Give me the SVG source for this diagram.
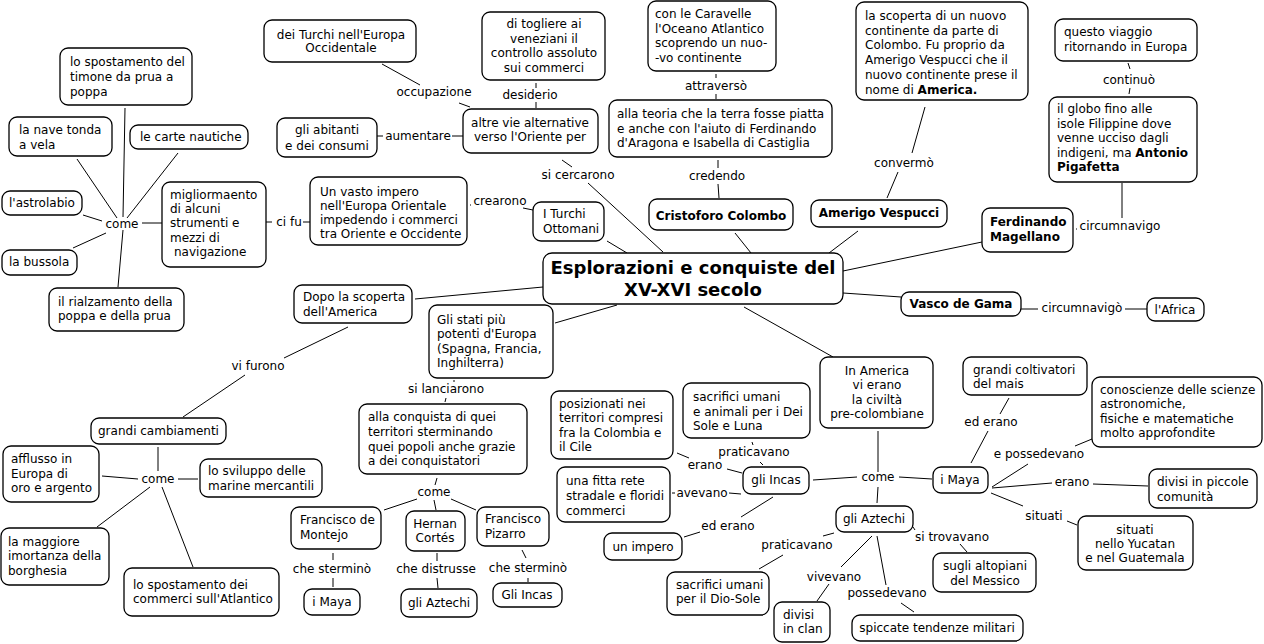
<svg xmlns="http://www.w3.org/2000/svg" width="1264" height="644" viewBox="0 0 1264 644">
<style>
text{font-family:"DejaVu Sans",Verdana,sans-serif;font-size:12px;fill:#000}
.n rect{fill:#fff;stroke:#000;stroke-width:1.3}
.m{text-anchor:middle}
.b{font-weight:bold}
.t{font-size:18px;font-weight:bold;text-anchor:middle}
#conn line{stroke:#000;stroke-width:1}
#labels text{text-anchor:middle}
</style>
<rect width="1264" height="644" fill="#fff"/>
<g id="conn">
<line x1="125" y1="108" x2="123" y2="217"/>
<line x1="77" y1="159" x2="117" y2="218"/>
<line x1="178" y1="153" x2="127" y2="218"/>
<line x1="83" y1="215" x2="102" y2="221"/>
<line x1="73" y1="248" x2="106" y2="233"/>
<line x1="123" y1="230" x2="118" y2="287"/>
<line x1="142" y1="223" x2="162" y2="223"/>
<line x1="266" y1="222" x2="272" y2="222"/>
<line x1="303" y1="222" x2="310" y2="222"/>
<line x1="382" y1="64" x2="420" y2="85"/>
<line x1="459" y1="103" x2="470" y2="107"/>
<line x1="536" y1="83" x2="536" y2="88"/>
<line x1="536" y1="102" x2="536" y2="108"/>
<line x1="377" y1="136" x2="383" y2="136"/>
<line x1="452" y1="136" x2="463" y2="136"/>
<line x1="562" y1="160" x2="572" y2="167"/>
<line x1="588" y1="183" x2="663" y2="252"/>
<line x1="470" y1="205" x2="471" y2="205"/>
<line x1="523" y1="208" x2="533" y2="210"/>
<line x1="607" y1="241" x2="627" y2="253"/>
<line x1="716" y1="74" x2="716" y2="78"/>
<line x1="716" y1="94" x2="716" y2="99"/>
<line x1="718" y1="160" x2="718" y2="168"/>
<line x1="718" y1="184" x2="719" y2="198"/>
<line x1="735" y1="233" x2="751" y2="253"/>
<line x1="925" y1="107" x2="912" y2="153"/>
<line x1="898" y1="172" x2="887" y2="198"/>
<line x1="858" y1="231" x2="829" y2="253"/>
<line x1="1128" y1="63" x2="1130" y2="69"/>
<line x1="1130" y1="88" x2="1129" y2="94"/>
<line x1="1122" y1="183" x2="1122" y2="218"/>
<line x1="1076" y1="229" x2="1077" y2="229"/>
<line x1="982" y1="242" x2="843" y2="271"/>
<line x1="843" y1="293" x2="901" y2="297"/>
<line x1="1021" y1="309" x2="1038" y2="309"/>
<line x1="1125" y1="309" x2="1147" y2="309"/>
<line x1="744" y1="307" x2="833" y2="357"/>
<line x1="617" y1="305" x2="555" y2="323"/>
<line x1="543" y1="287" x2="415" y2="299"/>
<line x1="348" y1="327" x2="284" y2="358"/>
<line x1="245" y1="375" x2="183" y2="417"/>
<line x1="454" y1="380" x2="454" y2="382"/>
<line x1="446" y1="398" x2="445" y2="402"/>
<line x1="158" y1="447" x2="158" y2="471"/>
<line x1="102" y1="476" x2="138" y2="479"/>
<line x1="178" y1="479" x2="198" y2="479"/>
<line x1="150" y1="487" x2="97" y2="527"/>
<line x1="162" y1="487" x2="193" y2="567"/>
<line x1="437" y1="478" x2="435" y2="485"/>
<line x1="417" y1="499" x2="384" y2="510"/>
<line x1="434" y1="500" x2="436" y2="510"/>
<line x1="451" y1="499" x2="476" y2="510"/>
<line x1="333" y1="553" x2="333" y2="560"/>
<line x1="333" y1="578" x2="333" y2="587"/>
<line x1="437" y1="553" x2="437" y2="561"/>
<line x1="437" y1="578" x2="438" y2="588"/>
<line x1="522" y1="550" x2="526" y2="558"/>
<line x1="528" y1="578" x2="528" y2="582"/>
<line x1="752" y1="442" x2="753" y2="445"/>
<line x1="760" y1="462" x2="763" y2="465"/>
<line x1="677" y1="453" x2="689" y2="458"/>
<line x1="727" y1="469" x2="742" y2="473"/>
<line x1="672" y1="493" x2="675" y2="493"/>
<line x1="729" y1="493" x2="741" y2="494"/>
<line x1="773" y1="497" x2="741" y2="517"/>
<line x1="700" y1="532" x2="684" y2="537"/>
<line x1="813" y1="480" x2="857" y2="477"/>
<line x1="899" y1="477" x2="932" y2="479"/>
<line x1="878" y1="431" x2="878" y2="472"/>
<line x1="878" y1="487" x2="877" y2="503"/>
<line x1="1009" y1="398" x2="1000" y2="414"/>
<line x1="988" y1="431" x2="971" y2="463"/>
<line x1="1092" y1="439" x2="1075" y2="446"/>
<line x1="1028" y1="464" x2="992" y2="487"/>
<line x1="992" y1="488" x2="1052" y2="483"/>
<line x1="1093" y1="484" x2="1148" y2="486"/>
<line x1="991" y1="493" x2="1023" y2="506"/>
<line x1="1067" y1="521" x2="1077" y2="525"/>
<line x1="913" y1="527" x2="915" y2="530"/>
<line x1="960" y1="544" x2="967" y2="552"/>
<line x1="834" y1="533" x2="823" y2="536"/>
<line x1="783" y1="555" x2="759" y2="569"/>
<line x1="872" y1="536" x2="841" y2="567"/>
<line x1="829" y1="584" x2="817" y2="601"/>
<line x1="877" y1="536" x2="886" y2="585"/>
<line x1="901" y1="603" x2="914" y2="612"/>
</g>
<g id="labels">
<text x="122" y="228">come</text>
<text x="289" y="226">ci fu</text>
<text x="418" y="140">aumentare</text>
<text x="434" y="96">occupazione</text>
<text x="530" y="99">desiderio</text>
<text x="578" y="179">si cercarono</text>
<text x="500" y="205">crearono</text>
<text x="716" y="90">attraversò</text>
<text x="717" y="180">credendo</text>
<text x="904" y="167">convermò</text>
<text x="1129" y="84">continuò</text>
<text x="1120" y="230">circumnavigo</text>
<text x="1082" y="312">circumnavigò</text>
<text x="258" y="370">vi furono</text>
<text x="446" y="393">si lanciarono</text>
<text x="158" y="483">come</text>
<text x="434" y="496">come</text>
<text x="332" y="573">che sterminò</text>
<text x="436" y="573">che distrusse</text>
<text x="528" y="572">che sterminò</text>
<text x="754" y="456">praticavano</text>
<text x="705" y="469">erano</text>
<text x="702" y="497">avevano</text>
<text x="728" y="530">ed erano</text>
<text x="878" y="481">come</text>
<text x="991" y="426">ed erano</text>
<text x="1039" y="458">e possedevano</text>
<text x="1072" y="486">erano</text>
<text x="1044" y="520">situati</text>
<text x="952" y="541">si trovavano</text>
<text x="797" y="549">praticavano</text>
<text x="834" y="581">vivevano</text>
<text x="887" y="597">possedevano</text>
</g>
<g id="n-timone" class="n"><rect x="60" y="48" width="132" height="57" rx="8"/><text x="70" y="66">lo spostamento del</text><text x="70" y="81">timone da prua a</text><text x="70" y="96">poppa</text></g>
<g id="n-nave" class="n"><rect x="9" y="117" width="103" height="39" rx="8"/><text x="19" y="134">la nave tonda</text><text x="19" y="149">a vela</text></g>
<g id="n-carte" class="n"><rect x="130" y="125" width="118" height="24" rx="8"/><text x="140" y="141">le carte nautiche</text></g>
<g id="n-astrolabio" class="n"><rect x="2" y="191" width="80" height="24" rx="8"/><text x="9" y="207">l'astrolabio</text></g>
<g id="n-bussola" class="n"><rect x="2" y="250" width="75" height="25" rx="8"/><text x="9" y="266">la bussola</text></g>
<g id="n-rialzamento" class="n"><rect x="49" y="288" width="135" height="43" rx="8"/><text x="58" y="306">il rialzamento della</text><text x="58" y="320">poppa e della prua</text></g>
<g id="n-miglioramento" class="n"><rect x="162" y="182" width="104" height="85" rx="8"/><text x="170" y="199">migliormaento</text><text x="170" y="213">di alcuni</text><text x="170" y="227">strumenti e</text><text x="170" y="242">mezzi di</text><text x="174" y="256">navigazione</text></g>
<g id="n-impero" class="n"><rect x="310" y="177" width="157" height="68" rx="8"/><text x="320" y="196">Un vasto impero</text><text x="320" y="210">nell'Europa Orientale</text><text x="320" y="224">impedendo i commerci</text><text x="320" y="238">tra Oriente e Occidente</text></g>
<g id="n-turchi" class="n"><rect x="533" y="202" width="71" height="39" rx="8"/><text x="543" y="218">I Turchi</text><text x="543" y="233">Ottomani</text></g>
<g id="n-abitanti" class="n"><rect x="277" y="118" width="100" height="39" rx="8"/><text class="m" x="327" y="134">gli abitanti</text><text class="m" x="327" y="150">e dei consumi</text></g>
<g id="n-occidentale" class="n"><rect x="264" y="20" width="152" height="42" rx="8"/><text class="m" x="341" y="39">dei Turchi nell'Europa</text><text class="m" x="341" y="52">Occidentale</text></g>
<g id="n-veneziani" class="n"><rect x="482" y="12" width="123" height="68" rx="8"/><text class="m" x="544" y="28">di togliere ai</text><text class="m" x="544" y="43">veneziani il</text><text class="m" x="544" y="57">controllo assoluto</text><text class="m" x="544" y="72">sui commerci</text></g>
<g id="n-altrevie" class="n"><rect x="463" y="109" width="135" height="44" rx="8"/><text class="m" x="530" y="127">altre vie alternative</text><text class="m" x="530" y="141">verso l'Oriente per</text></g>
<g id="n-caravelle" class="n"><rect x="648" y="1" width="128" height="70" rx="8"/><text x="655" y="18">con le Caravelle</text><text x="655" y="33">l'Oceano Atlantico</text><text x="655" y="47">scoprendo un nuo-</text><text x="655" y="62">-vo continente</text></g>
<g id="n-teoria" class="n"><rect x="609" y="100" width="223" height="57" rx="8"/><text x="617" y="118">alla teoria che la terra fosse piatta</text><text x="617" y="133">e anche con l'aiuto di Ferdinando</text><text x="617" y="147">d'Aragona e Isabella di Castiglia</text></g>
<g id="n-colombo" class="n"><rect x="649" y="199" width="144" height="31" rx="8"/><text class="m b" x="721" y="220">Cristoforo Colombo</text></g>
<g id="n-vespucci" class="n"><rect x="811" y="200" width="136" height="27" rx="8"/><text class="m b" x="879" y="217">Amerigo Vespucci</text></g>
<g id="n-scoperta" class="n"><rect x="856" y="2" width="172" height="98" rx="8"/><text x="865" y="20">la scoperta di un nuovo</text><text x="865" y="35">continente da parte di</text><text x="865" y="49">Colombo. Fu proprio da</text><text x="865" y="64">Amerigo Vespucci che il</text><text x="865" y="79">nuovo continente prese il</text><text x="865" y="94">nome di <tspan class="b">America.</tspan></text></g>
<g id="n-viaggio" class="n"><rect x="1055" y="19" width="142" height="42" rx="8"/><text x="1064" y="36">questo viaggio</text><text x="1064" y="51">ritornando in Europa</text></g>
<g id="n-globo" class="n"><rect x="1049" y="97" width="148" height="85" rx="8"/><text x="1057" y="113">il globo fino alle</text><text x="1057" y="128">isole Filippine dove</text><text x="1057" y="142">venne ucciso dagli</text><text x="1057" y="157">indigeni, ma <tspan class="b">Antonio</tspan></text><text x="1057" y="171" class="b">Pigafetta</text></g>
<g id="n-magellano" class="n"><rect x="982" y="208" width="91" height="44" rx="8"/><text class="b" x="990" y="226">Ferdinando</text><text class="b" x="990" y="241">Magellano</text></g>
<g id="n-vasco" class="n"><rect x="901" y="292" width="120" height="24" rx="8"/><text class="m b" x="961" y="308">Vasco de Gama</text></g>
<g id="n-africa" class="n"><rect x="1147" y="298" width="57" height="23" rx="8"/><text class="m" x="1175" y="314">l'Africa</text></g>
<g id="n-central" class="n"><rect x="543" y="253" width="300" height="51" rx="9"/><text class="t" x="693" y="274">Esplorazioni e conquiste del</text><text class="t" x="693" y="296">XV-XVI secolo</text></g>
<g id="n-dopo" class="n"><rect x="294" y="285" width="118" height="38" rx="8"/><text x="303" y="301">Dopo la scoperta</text><text x="303" y="316">dell'America</text></g>
<g id="n-stati" class="n"><rect x="429" y="305" width="124" height="73" rx="8"/><text x="437" y="324">Gli stati più</text><text x="437" y="338">potenti d'Europa</text><text x="437" y="353">(Spagna, Francia,</text><text x="437" y="367">Inghilterra)</text></g>
<g id="n-conquista" class="n"><rect x="359" y="404" width="168" height="70" rx="8"/><text x="368" y="421">alla conquista di quei</text><text x="368" y="436">territori sterminando</text><text x="368" y="451">quei popoli anche grazie</text><text x="368" y="465">a dei conquistatori</text></g>
<g id="n-montejo" class="n"><rect x="291" y="507" width="90" height="42" rx="8"/><text x="300" y="524">Francisco de</text><text x="300" y="539">Montejo</text></g>
<g id="n-cortes" class="n"><rect x="406" y="511" width="59" height="40" rx="8"/><text class="m" x="435" y="528">Hernan</text><text class="m" x="435" y="542">Cortés</text></g>
<g id="n-pizarro" class="n"><rect x="477" y="507" width="72" height="39" rx="8"/><text x="485" y="523">Francisco</text><text x="485" y="538">Pizarro</text></g>
<g id="n-maya1" class="n"><rect x="304" y="589" width="56" height="26" rx="8"/><text class="m" x="332" y="606">i Maya</text></g>
<g id="n-aztechi1" class="n"><rect x="401" y="589" width="76" height="28" rx="8"/><text class="m" x="439" y="607">gli Aztechi</text></g>
<g id="n-incas1" class="n"><rect x="493" y="583" width="69" height="24" rx="8"/><text class="m" x="527" y="599">Gli Incas</text></g>
<g id="n-cambiamenti" class="n"><rect x="91" y="418" width="135" height="26" rx="8"/><text x="98" y="435">grandi cambiamenti</text></g>
<g id="n-afflusso" class="n"><rect x="3" y="446" width="96" height="56" rx="8"/><text x="11" y="463">afflusso in</text><text x="11" y="478">Europa di</text><text x="11" y="492">oro e argento</text></g>
<g id="n-sviluppo" class="n"><rect x="200" y="459" width="122" height="38" rx="8"/><text x="208" y="475">lo sviluppo delle</text><text x="208" y="490">marine mercantili</text></g>
<g id="n-borghesia" class="n"><rect x="1" y="528" width="108" height="57" rx="8"/><text x="8" y="546">la maggiore</text><text x="8" y="560">imortanza della</text><text x="8" y="575">borghesia</text></g>
<g id="n-commerci" class="n"><rect x="124" y="568" width="155" height="48" rx="8"/><text x="133" y="589">lo spostamento dei</text><text x="133" y="603">commerci sull'Atlantico</text></g>
<g id="n-posizionati" class="n"><rect x="551" y="391" width="122" height="68" rx="8"/><text x="559" y="408">posizionati nei</text><text x="559" y="422">territori compresi</text><text x="559" y="437">fra la Colombia e</text><text x="559" y="451">il Cile</text></g>
<g id="n-sacrifici1" class="n"><rect x="683" y="383" width="127" height="55" rx="8"/><text x="693" y="401">sacrifici umani</text><text x="693" y="416">e animali per i Dei</text><text x="693" y="430">Sole e Luna</text></g>
<g id="n-incas" class="n"><rect x="743" y="467" width="66" height="27" rx="8"/><text class="m" x="776" y="484">gli Incas</text></g>
<g id="n-rete" class="n"><rect x="557" y="467" width="113" height="55" rx="8"/><text x="566" y="485">una fitta rete</text><text x="566" y="500">stradale e floridi</text><text x="566" y="515">commerci</text></g>
<g id="n-unimpero" class="n"><rect x="604" y="533" width="78" height="27" rx="8"/><text class="m" x="643" y="551">un impero</text></g>
<g id="n-america" class="n"><rect x="820" y="357" width="113" height="71" rx="8"/><text class="m" x="877" y="375">In America</text><text class="m" x="877" y="389">vi erano</text><text class="m" x="877" y="404">la civiltà</text><text class="m" x="877" y="418">pre-colombiane</text></g>
<g id="n-aztechi" class="n"><rect x="836" y="506" width="77" height="26" rx="8"/><text class="m" x="874" y="523">gli Aztechi</text></g>
<g id="n-maya" class="n"><rect x="933" y="467" width="55" height="26" rx="8"/><text class="m" x="960" y="484">i Maya</text></g>
<g id="n-mais" class="n"><rect x="963" y="357" width="124" height="38" rx="8"/><text x="973" y="374">grandi coltivatori</text><text x="973" y="388">del mais</text></g>
<g id="n-scienze" class="n"><rect x="1092" y="377" width="170" height="70" rx="8"/><text x="1100" y="394">conoscienze delle scienze</text><text x="1100" y="408">astronomiche,</text><text x="1100" y="423">fisiche e matematiche</text><text x="1100" y="437">molto approfondite</text></g>
<g id="n-comunita" class="n"><rect x="1149" y="469" width="108" height="39" rx="8"/><text x="1157" y="486">divisi in piccole</text><text x="1157" y="501">comunità</text></g>
<g id="n-yucatan" class="n"><rect x="1078" y="516" width="115" height="54" rx="8"/><text class="m" x="1135" y="534">situati</text><text class="m" x="1135" y="548">nello Yucatan</text><text class="m" x="1135" y="562">e nel Guatemala</text></g>
<g id="n-messico" class="n"><rect x="933" y="553" width="103" height="39" rx="8"/><text class="m" x="985" y="570">sugli altopiani</text><text class="m" x="985" y="585">del Messico</text></g>
<g id="n-diosole" class="n"><rect x="667" y="572" width="102" height="43" rx="8"/><text x="676" y="589">sacrifici umani</text><text x="676" y="603">per il Dio-Sole</text></g>
<g id="n-clan" class="n"><rect x="774" y="602" width="56" height="40" rx="8"/><text x="783" y="619">divisi</text><text x="783" y="633">in clan</text></g>
<g id="n-militari" class="n"><rect x="852" y="615" width="171" height="26" rx="8"/><text class="m" x="937" y="632">spiccate tendenze militari</text></g>
</svg>
